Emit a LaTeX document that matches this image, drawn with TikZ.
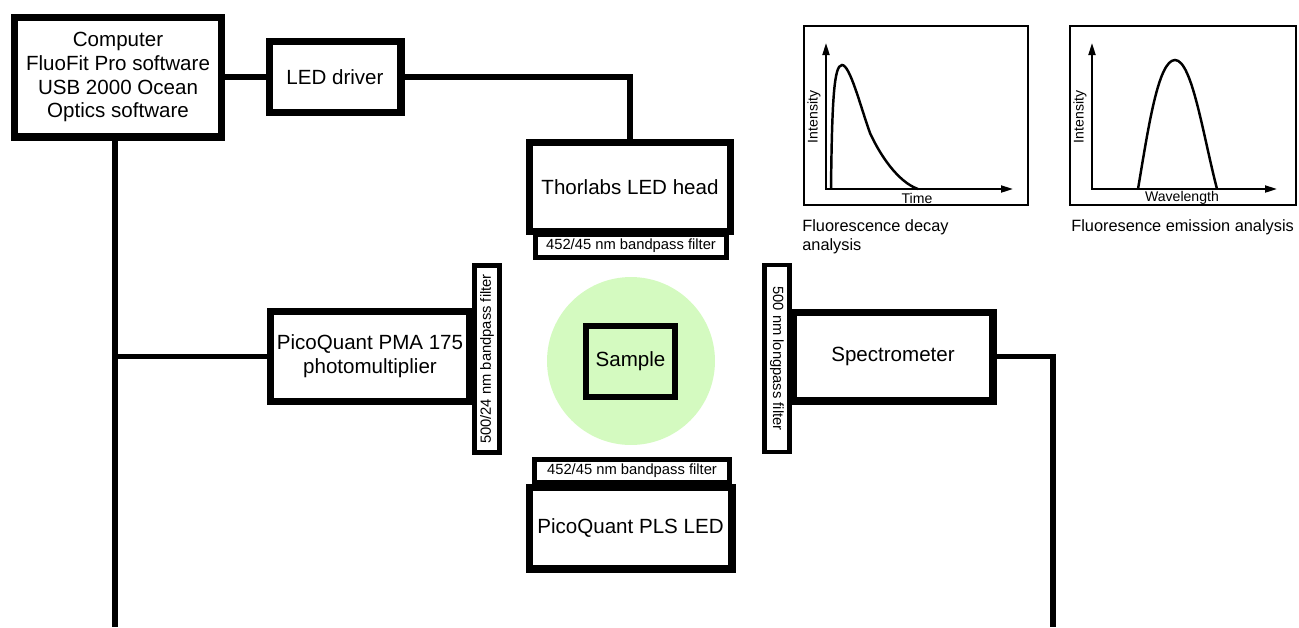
\documentclass[tikz,border=0pt]{standalone}
\usepackage{fontspec}
\setmainfont{Liberation Sans}
\usepackage{xcolor}
\usepackage{tikz}
\usetikzlibrary{positioning, arrows.meta}
\definecolor{samplegreen}{RGB}{212,250,192}

\begin{document}
\begin{tikzpicture}[
    x=0.02cm, y=-0.02cm,
    box/.style={draw, line width=4pt, fill=white, align=center, font=\fontsize{11.7}{13.6}\selectfont},
    filt/.style={draw, line width=2.8pt, fill=white, inner sep=0pt, minimum height=0.46cm, font=\fontsize{8.4}{10}\selectfont},
    link/.style={line width=3.1pt},
    frame/.style={line width=1.1pt},
    axis/.style={line width=1.1pt, {Triangle[length=0.24cm, width=0.14cm]}-{Triangle[length=0.24cm, width=0.14cm]}},
    trace/.style={line width=1.4pt},
    small/.style={font=\fontsize{8}{9.5}\selectfont, inner sep=0pt},
    caption/.style={font=\fontsize{9.3}{10.8}\selectfont, align=left, inner sep=0pt},
]
\useasboundingbox (0,0) rectangle (1299,627);

% sample glow
\node[circle, fill=samplegreen, minimum size=3.36cm, inner sep=0pt] (glow) at (631,361) {};

% instruments
\node[box, minimum width=4.16cm, minimum height=2.4cm] (comp) at (118,77) {Computer\\FluoFit Pro software\\USB 2000 Ocean\\ Optics software};
\node[box, minimum width=2.64cm, minimum height=1.42cm] (drv) at (335,77) {LED driver};
\node[box, minimum width=4.02cm, minimum height=1.78cm] (thor) at (630,187) {Thorlabs LED head};
\node[filt, minimum width=3.82cm] (filtA) at (631,246) {452/45 nm bandpass filter};
\node[filt, minimum width=3.9cm] (filtB) at (632,471) {452/45 nm bandpass filter};
\node[box, minimum width=4.06cm, minimum height=1.64cm] (pls) at (630.5,528) {PicoQuant PLS LED};
\node[box, minimum width=4.0cm, minimum height=1.8cm] (pma) at (370,356.5) {PicoQuant PMA 175\\photomultiplier};
\node[filt, rotate=90, minimum width=3.74cm, minimum height=0.5cm] (filtC) at (487,359) {500/24 nm bandpass filter};
\node[box, minimum width=4.0cm, minimum height=1.78cm] (spec) at (893,356.5) {Spectrometer};
\node[filt, rotate=-90, minimum width=3.74cm, minimum height=0.5cm] (filtD) at (777,358.5) {500 nm longpass filter};
\node[box, line width=3.4pt, fill=samplegreen, minimum width=1.78cm, minimum height=1.42cm] (sample) at (630.5,361.5) {Sample};

% wiring
\coordinate (jn) at (115,356.5);
\coordinate (compend) at (115,627);
\coordinate (specend) at (1053,627);
\draw[link] (comp.east) -- (drv.west);
\draw[link] (drv.east) -| (thor.north);
\draw[link] (comp.south -| compend) -- (compend);
\draw[link] (jn) -- (pma.west);
\draw[link] (spec.east) -| (specend);

% decay plot
\draw[frame] (804,26) rectangle (1028,205);
\draw[axis] (826,43) -- (826,189) -- (1013,189);
\draw[trace] (831,189) .. controls (832,100) and (834,65) .. (842,65)
    .. controls (850,65) and (860,105) .. (870,133)
    .. controls (880,155) and (898,182) .. (918,189);
\node[small, rotate=90] (intA) at (814,117) {Intensity};
\node[small] (timeA) at (917,198) {Time};
\node[caption, anchor=north west] (capA) at (802,219) {Fluorescence decay\\analysis};

% emission plot
\draw[frame] (1070,26) rectangle (1296,205);
\draw[axis] (1092,43) -- (1092,189) -- (1277,189);
\draw[trace] (1138,189) .. controls (1148,130) and (1158,60) .. (1175,60)
    .. controls (1192,60) and (1203,135) .. (1217,189);
\node[small, rotate=90] (intB) at (1080,117) {Intensity};
\node[small] (wlB) at (1182,198) {Wavelength};
\node[caption, anchor=north west] (capB) at (1071,219) {Fluoresence emission analysis};
\end{tikzpicture}
\end{document}
